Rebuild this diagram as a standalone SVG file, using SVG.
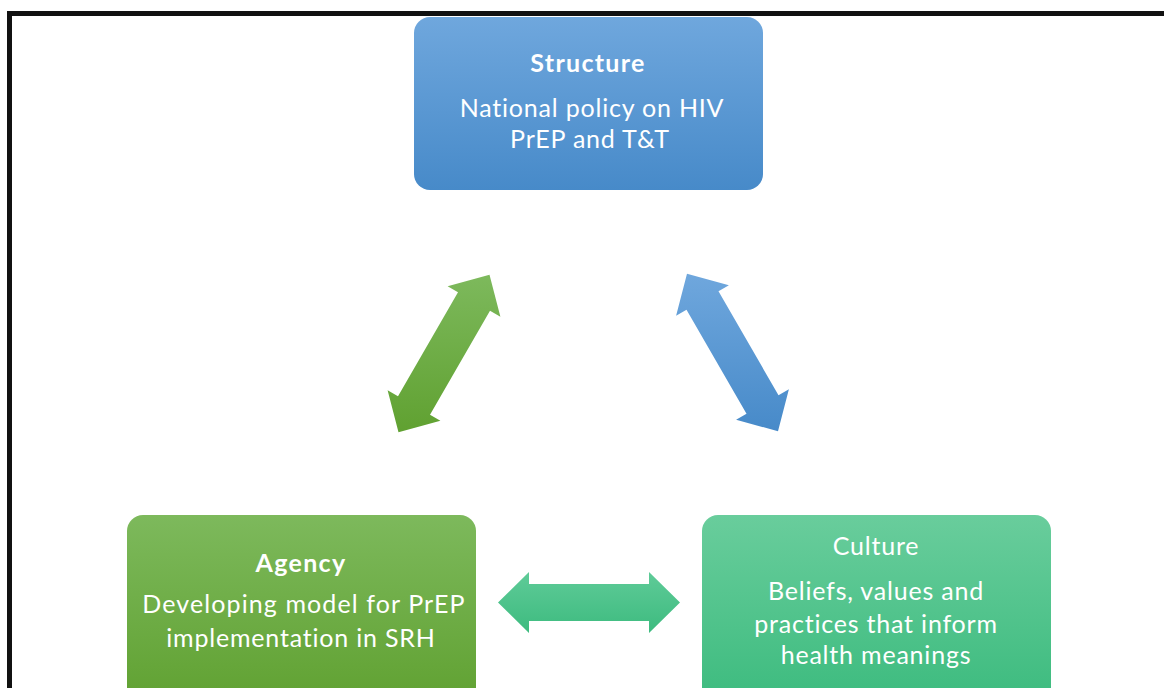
<svg xmlns="http://www.w3.org/2000/svg" width="1164" height="688" viewBox="0 0 1164 688">
  <defs>
    <linearGradient id="gBlue" x1="0" y1="0" x2="0" y2="1">
      <stop offset="0" stop-color="#6fa7dd"/>
      <stop offset="1" stop-color="#478ac9"/>
    </linearGradient>
    <linearGradient id="gGreen" x1="0" y1="0" x2="0" y2="1">
      <stop offset="0" stop-color="#7db95c"/>
      <stop offset="1" stop-color="#60a131"/>
    </linearGradient>
    <linearGradient id="gTeal" x1="0" y1="0" x2="0" y2="1">
      <stop offset="0" stop-color="#69cd9c"/>
      <stop offset="1" stop-color="#3cbb7e"/>
    </linearGradient>
    <linearGradient id="aGreen" gradientUnits="userSpaceOnUse" x1="0" y1="275" x2="0" y2="432">
      <stop offset="0" stop-color="#7db95c"/>
      <stop offset="1" stop-color="#60a131"/>
    </linearGradient>
    <linearGradient id="aBlue" gradientUnits="userSpaceOnUse" x1="0" y1="274" x2="0" y2="431">
      <stop offset="0" stop-color="#6fa7dd"/>
      <stop offset="1" stop-color="#478ac9"/>
    </linearGradient>
    <linearGradient id="aTeal" gradientUnits="userSpaceOnUse" x1="0" y1="572" x2="0" y2="633">
      <stop offset="0" stop-color="#5fcb98"/>
      <stop offset="1" stop-color="#3dbb7f"/>
    </linearGradient>
  </defs>
  <style>
    text { font-family: Lato, "Liberation Sans", sans-serif; fill: #ffffff; text-anchor: middle; font-size: 25px; letter-spacing: 0.8px; }
    .title { font-weight: bold; letter-spacing: 1.3px; }
  </style>

  <rect x="0" y="0" width="1164" height="688" fill="#ffffff"/>
  <!-- outer frame, open to the right and bottom -->
  <rect x="9.5" y="13.5" width="1200" height="720" fill="none" stroke="#111111" stroke-width="5"/>

  <g id="structure">
    <rect x="414" y="17" width="349" height="173" rx="16" fill="url(#gBlue)"/>
    <text class="title" x="588" y="72">Structure</text>
    <text x="592" y="117">National policy on HIV</text>
    <text x="590" y="148">PrEP and T&amp;T</text>
  </g>

  <g id="agency">
    <rect x="127" y="515" width="349" height="190" rx="16" fill="url(#gGreen)"/>
    <text class="title" x="301" y="572">Agency</text>
    <text x="304" y="613" style="letter-spacing:1.1px">Developing model for PrEP</text>
    <text x="301" y="647">implementation in SRH</text>
  </g>

  <g id="culture">
    <rect x="702" y="515" width="349" height="190" rx="16" fill="url(#gTeal)"/>
    <text x="876" y="555">Culture</text>
    <text x="876" y="600">Beliefs, values and</text>
    <text x="876" y="633">practices that inform</text>
    <text x="876" y="664">health meanings</text>
  </g>

  <g id="connectors">
    <polygon fill="url(#aGreen)" points="398.5,432.3 387.6,390.2 398,396.2 458,292.3 447.6,286.3 489.5,274.7 500.4,316.8 490,310.8 430,414.7 440.4,420.7"/>
    <polygon fill="url(#aBlue)" points="687,273.7 728.9,285.3 718.5,291.3 778.5,395.2 788.9,389.2 778,431.3 736.1,419.7 746.5,413.7 686.5,309.8 676.1,315.8"/>
    <polygon fill="url(#aTeal)" points="498,602.5 529,572 529,584 649,584 649,572 680,602.5 649,633 649,621 529,621 529,633"/>
  </g>
</svg>
